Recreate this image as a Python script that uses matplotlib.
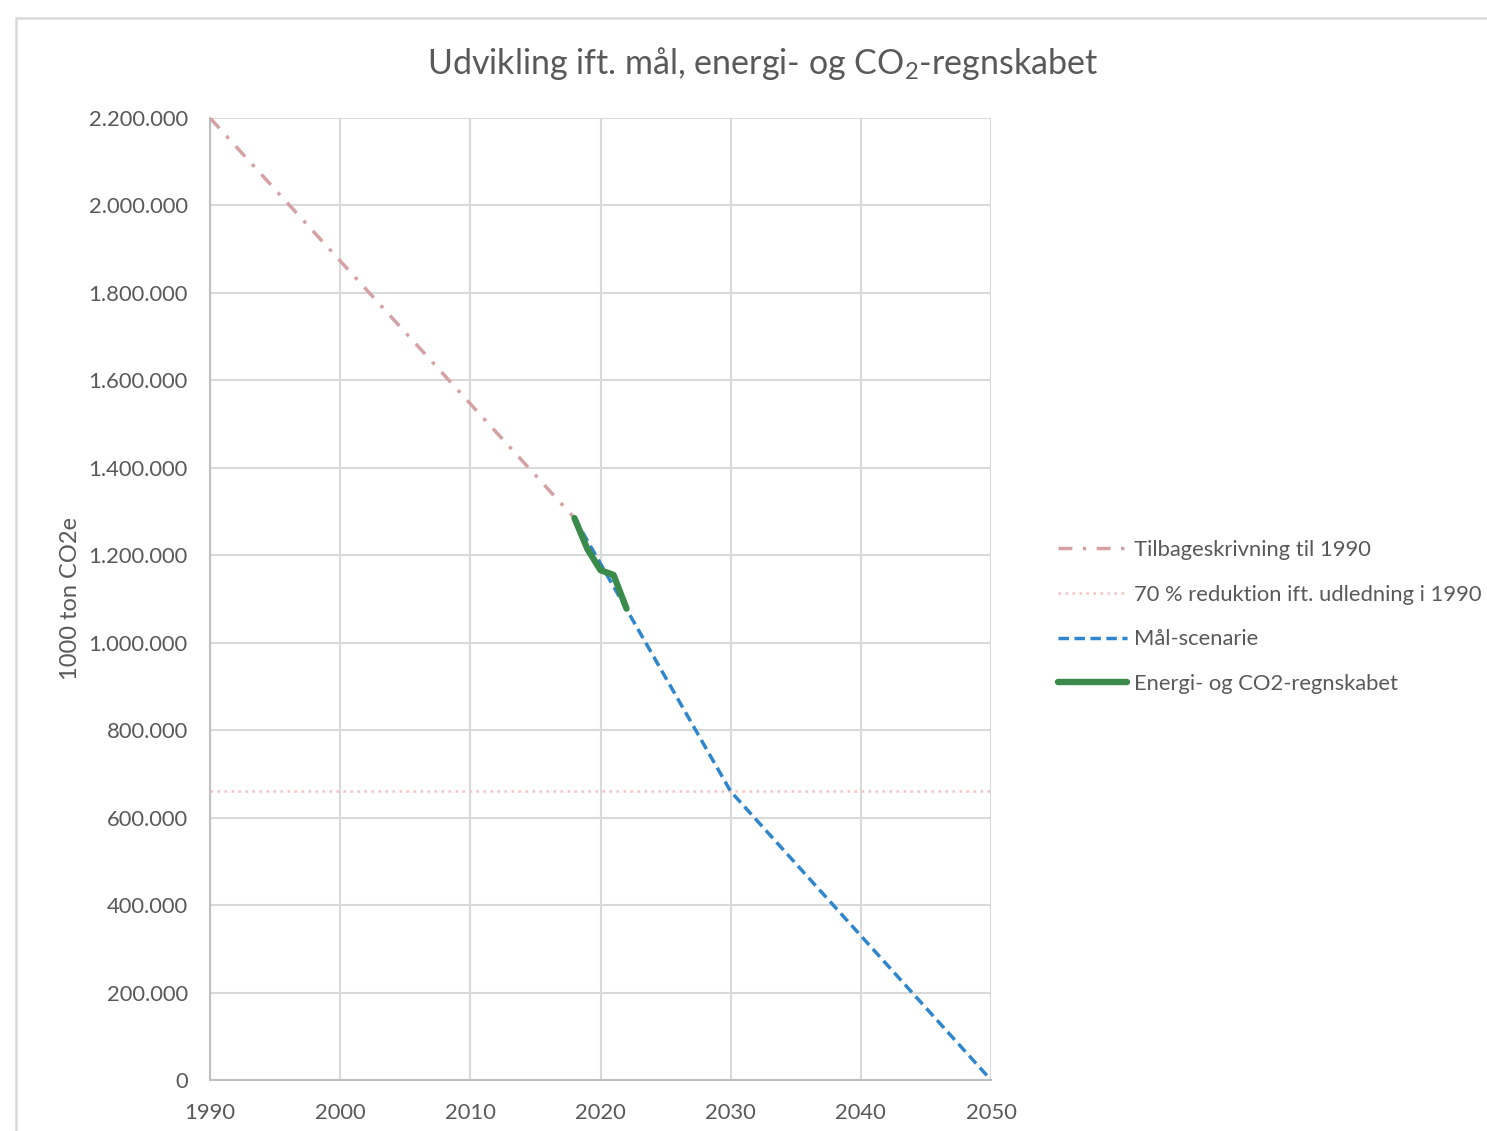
import matplotlib
matplotlib.use("Agg")
import matplotlib.pyplot as plt
from matplotlib.patches import Rectangle
from matplotlib.ticker import FuncFormatter

plt.rcParams['font.family'] = ['Lato', 'DejaVu Sans']
plt.rcParams['mathtext.default'] = 'regular'

# --- data ---
back_years = [1990, 2018]
back_values = [2200000, 1285000]

target_level = 660000  # 70 % reduktion ift. 1990
target_years = [1990, 2050]

scen_years = [2018, 2030, 2050]
scen_values = [1285000, 660000, 0]

acct_years = [2018, 2019, 2020, 2021, 2022]
acct_values = [1285000, 1214000, 1166000, 1155000, 1078000]

x_ticks = [1990, 2000, 2010, 2020, 2030, 2040, 2050]
y_ticks = [0, 200000, 400000, 600000, 800000, 1000000, 1200000,
           1400000, 1600000, 1800000, 2000000, 2200000]

labels = ["Tilbageskrivning til 1990",
          "70 % reduktion ift. udledning i 1990",
          "Mål-scenarie",
          "Energi- og CO2-regnskabet"]

W, H = 1487, 1131
fig = plt.figure(figsize=(W / 100, H / 100), dpi=100)

# outer chart border
fig.add_artist(Rectangle((16 / W, -0.1), 1.2, 1 - 18 / H + 0.1,
                         transform=fig.transFigure, fill=False,
                         edgecolor='#D9D9D9', lw=1.8))

ax = fig.add_axes([210 / W, 1 - 1080 / H, (991 - 210) / W, (1080 - 118) / H])

txt = '#595959'
ax.plot(back_years, back_values, color='#D4A2A4', lw=2.5,
        linestyle=(0, (4, 3, 1, 3)), label=labels[0], zorder=3)
ax.plot(target_years, [target_level] * 2, color='#F4C2C2', lw=1.8,
        linestyle=(0, (1, 1.8)), label=labels[1], zorder=3)
ax.plot(scen_years, scen_values, color='#2F86CC', lw=2.5,
        linestyle=(0, (3, 1.6)), label=labels[2], zorder=3)
ax.plot(acct_years, acct_values, color='#3A8A4C', lw=4.6,
        solid_capstyle='round', solid_joinstyle='round', label=labels[3], zorder=4)

ax.set_xlim(1990, 2050)
ax.set_ylim(0, 2200000)
ax.set_xticks(x_ticks)
ax.set_yticks(y_ticks)
ax.yaxis.set_major_formatter(FuncFormatter(lambda v, p: f"{int(v):,}".replace(",", ".")))
ax.grid(True, color='#D9D9D9', lw=1.5, zorder=0)
ax.set_axisbelow(True)
for s in ['top', 'right']:
    ax.spines[s].set_visible(False)
for s in ['left', 'bottom']:
    ax.spines[s].set_color('#BFBFBF')
    ax.spines[s].set_linewidth(1.5)
ax.tick_params(length=0, labelsize=15.8, colors=txt)
ax.tick_params(axis='y', pad=16)
ax.tick_params(axis='x', pad=16.5)

ax.set_ylabel("1000 ton CO2e", fontsize=17, color=txt)
ax.yaxis.set_label_coords((81 - 210) / 781, 0.5)

fig.text(763 / W, 1 - 63 / H, "Udvikling ift. mål, energi- og CO$_2$-regnskabet",
         ha='center', va='center', fontsize=24.5, color=txt)

leg = ax.legend(loc='center left', bbox_to_anchor=(1058 / W, 1 - 617 / H),
                bbox_transform=fig.transFigure, frameon=False, fontsize=15.8,
                labelspacing=1.12, handlelength=3.15, handletextpad=0.3,
                borderaxespad=0, borderpad=0)
for t in leg.get_texts():
    t.set_color(txt)

fig.savefig("out.png", dpi=100, facecolor='white')
